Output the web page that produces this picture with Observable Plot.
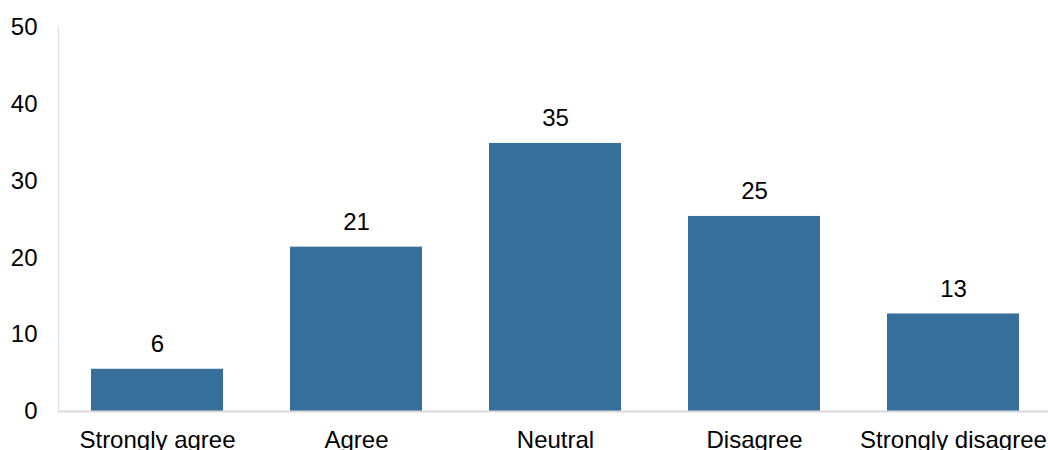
<!DOCTYPE html>
<html>
<head>
<meta charset="utf-8">
<script src="https://cdn.jsdelivr.net/npm/d3@7"></script>
<script src="https://cdn.jsdelivr.net/npm/@observablehq/plot@0.6"></script>
<style>
  html, body { margin: 0; padding: 0; background: #fff; }
</style>
</head>
<body>
<div id="chart"></div>
<script>
const categories = ["Strongly agree", "Agree", "Neutral", "Disagree", "Strongly disagree"];
const values = [5.5, 21.4, 34.9, 25.4, 12.7];
const yTicks = [0, 10, 20, 30, 40, 50];

const data = categories.map((c, i) => ({category: c, value: values[i]}));

const chart = Plot.plot({
  width: 1048,
  height: 450,
  marginLeft: 58,
  marginRight: -5,
  marginTop: 27,
  marginBottom: 39,
  style: {fontFamily: "'Liberation Sans', Arial, sans-serif", fontSize: "24px", color: "#000", background: "#fff"},
  x: {domain: categories, paddingInner: 0.335, paddingOuter: 0.166, label: null},
  y: {domain: [0, 50], ticks: yTicks, label: null},
  marks: [
    Plot.frame({anchor: "left", stroke: "#dde4ec", strokeWidth: 1.5}),
    Plot.barY(data, {x: "category", y: "value", fill: "#366f9b"}),
    Plot.ruleY([0], {stroke: "#d9d9d9", strokeWidth: 2}),
    Plot.axisY({ticks: yTicks, tickSize: 0, tickPadding: 21, fontSize: 24, fill: "#000", label: null}),
    Plot.axisX({tickSize: 0, tickPadding: 19, fontSize: 24, fill: "#000", label: null}),
    Plot.text(data, {x: "category", y: "value", text: d => String(Math.round(d.value)), dy: -25, lineAnchor: "middle", fontSize: 24, fill: "#000"})
  ]
});
document.getElementById("chart").appendChild(chart);
</script>
</body>
</html>
